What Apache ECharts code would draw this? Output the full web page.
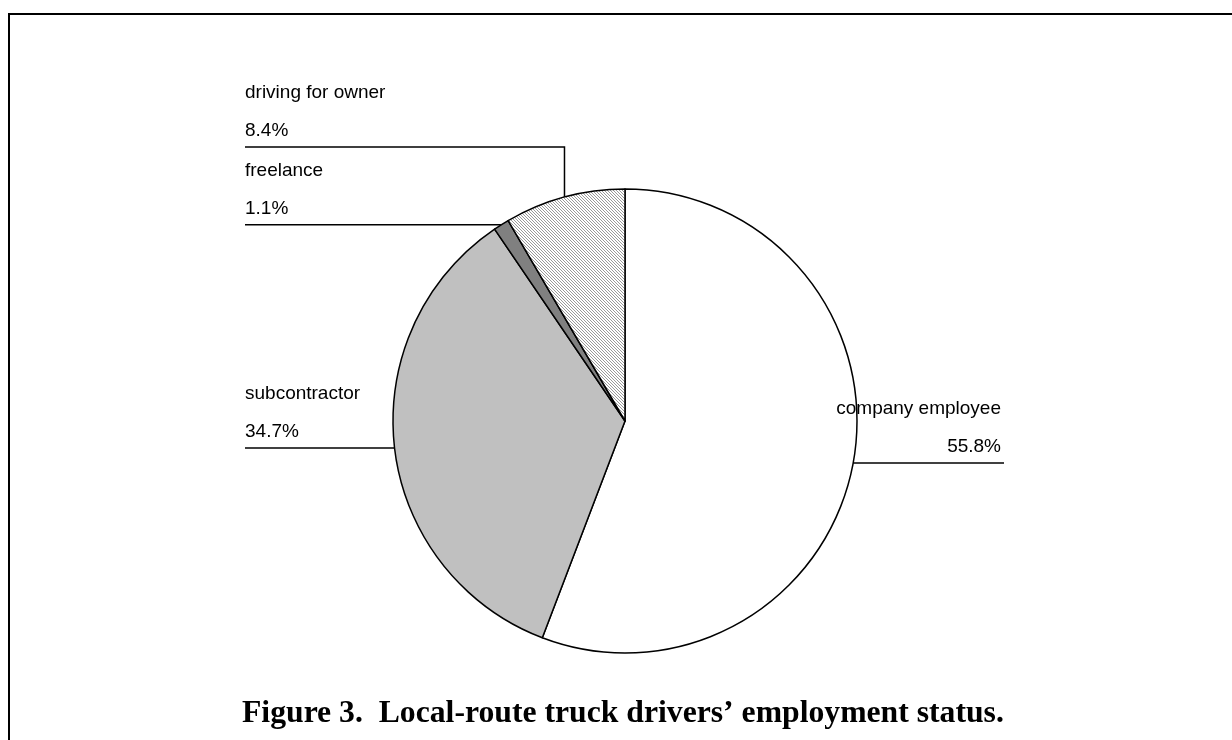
<!DOCTYPE html>
<html>
<head>
<meta charset="utf-8">
<title>Figure 3</title>
<script src="https://cdn.jsdelivr.net/npm/echarts@6/dist/echarts.min.js"></script>
<style>
  html, body { margin: 0; padding: 0; background: #fff; }
  #chart { width: 1232px; height: 740px; }
</style>
</head>
<body>
<div id="chart"></div>
<script>
const categories = ['company employee', 'subcontractor', 'freelance', 'driving for owner']
const shares = [55.8, 34.7, 1.1, 8.4]
const fills = ['#ffffff', '#c0c0c0', '#808080', 'hatch']

// where each leader line ends (Excel-style labels sitting on their lines)
const labelSpots = {
  'company employee': { side: 'right', x: 1004 },
  'subcontractor': { side: 'left', x: 245 },
  'freelance': { side: 'left', x: 245 },
  'driving for owner': { side: 'left', x: 245, lineY: 147 }
}

const CENTER = [625, 421]
const RADIUS = 232

function hatchPattern () {
  const c = document.createElement('canvas')
  c.width = 3
  c.height = 3
  const ctx = c.getContext('2d')
  ctx.fillStyle = '#ffffff'
  ctx.fillRect(0, 0, 3, 3)
  ctx.fillStyle = '#9a9a9a'
  for (let i = 0; i < 3; i++) ctx.fillRect(i, i, 1, 1)
  return { image: c, repeat: 'repeat' }
}

const hatch = hatchPattern()

// fallback if the guide line is missing: edge point at the slice's middle angle
function edgePoint (idx) {
  const total = shares.reduce((a, b) => a + b, 0)
  let before = 0
  for (let i = 0; i < idx; i++) before += shares[i]
  const ang = (before + shares[idx] / 2) / total * Math.PI * 2
  return [CENTER[0] + RADIUS * Math.sin(ang), CENTER[1] - RADIUS * Math.cos(ang)]
}

const chart = echarts.init(document.getElementById('chart'))

chart.setOption({
  animation: false,
  backgroundColor: '#ffffff',
  title: {
    text: 'Figure 3.  Local-route truck drivers\u2019 employment status.',
    left: 242,
    top: 698,
    padding: 0,
    textStyle: {
      fontFamily: 'Liberation Serif',
      fontWeight: 'bold',
      fontSize: 31.7,
      color: '#000'
    }
  },
  graphic: [
    { type: 'line', shape: { x1: 9, y1: 14, x2: 1232, y2: 14 }, style: { stroke: '#000', lineWidth: 2 } },
    { type: 'line', shape: { x1: 9, y1: 13, x2: 9, y2: 740 }, style: { stroke: '#000', lineWidth: 2 } }
  ],
  series: [{
    type: 'pie',
    center: CENTER,
    radius: RADIUS,
    startAngle: 90,
    clockwise: true,
    silent: true,
    avoidLabelOverlap: false,
    itemStyle: { borderColor: '#000', borderWidth: 1.5 },
    label: {
      show: true,
      position: 'outside',
      fontFamily: 'Liberation Sans',
      fontSize: 19,
      lineHeight: 38,
      color: '#000',
      formatter: p => p.name + '\n' + p.value.toFixed(1) + '%'
    },
    labelLine: {
      show: true,
      length: 5,
      length2: 5,
      lineStyle: { color: '#000', width: 1.5 }
    },
    labelLayout (params) {
      const spot = labelSpots[categories[params.dataIndex]]
      const p0 = (params.labelLinePoints && params.labelLinePoints[0]) || edgePoint(params.dataIndex)
      const lineY = spot.lineY != null ? spot.lineY : p0[1]
      const pts = spot.lineY != null
        ? [p0, [p0[0], lineY], [spot.x, lineY]]
        : [p0, [(p0[0] + spot.x) / 2, lineY], [spot.x, lineY]]
      return {
        x: spot.side === 'left' ? spot.x : spot.x - 3,
        y: lineY + 3,
        align: spot.side,
        verticalAlign: 'bottom',
        labelLinePoints: pts
      }
    },
    data: categories.map((name, i) => ({
      name,
      value: shares[i],
      itemStyle: { color: fills[i] === 'hatch' ? hatch : fills[i] }
    }))
  }]
})
</script>
</body>
</html>
